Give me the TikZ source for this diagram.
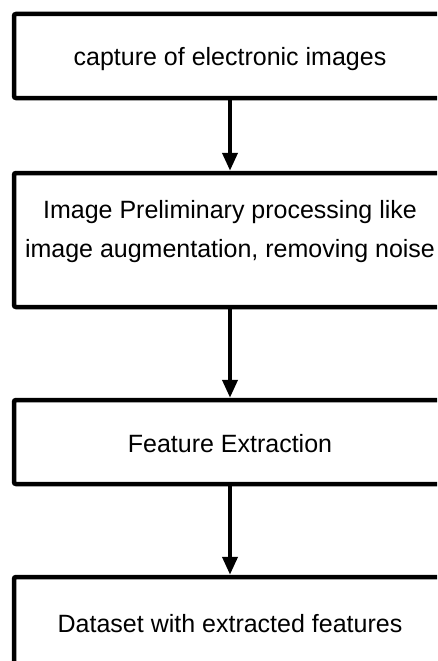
\documentclass[tikz,border=0pt]{standalone}
\usepackage{fontspec}
\setmainfont{Liberation Sans}
\usetikzlibrary{arrows.meta}
\begin{document}
\begin{tikzpicture}[x=1pt,y=-1pt,
  stepbox/.style={draw, line width=4.5pt, rounded corners=2pt,
    minimum width=432pt, inner sep=0pt},
  boxtext/.style={anchor=base, inner sep=0pt, font=\fontsize{25}{39}\selectfont},
  flow/.style={line width=4pt, -{Triangle[length=18pt,width=15pt]}}]
\clip (0,0) rectangle (437,661);
\fill[white] (0,0) rectangle (437,661);
% process boxes
\node[stepbox, minimum height=84pt]  (capture) at (230,56)    {};
\node[stepbox, minimum height=134pt] (prep)    at (230,240)   {};
\node[stepbox, minimum height=84pt]  (extract) at (230,442)   {};
\node[stepbox, minimum height=89pt]  (dataset) at (230,621.5) {};
% box texts
\node[boxtext] (t1)  at (230,66)  {capture of electronic images};
\node[boxtext] (t2a) at (230,218) {Image Preliminary processing like};
\node[boxtext] (t2b) at (230,257) {image augmentation, removing noise};
\node[boxtext] (t3)  at (230,452) {Feature Extraction};
\node[boxtext] (t4)  at (230,632) {Dataset with extracted features};
% connectors
\draw[flow] (capture.south) -- (prep.north);
\draw[flow] (prep.south) -- (extract.north);
\draw[flow] (extract.south) -- (dataset.north);
\end{tikzpicture}
\end{document}
